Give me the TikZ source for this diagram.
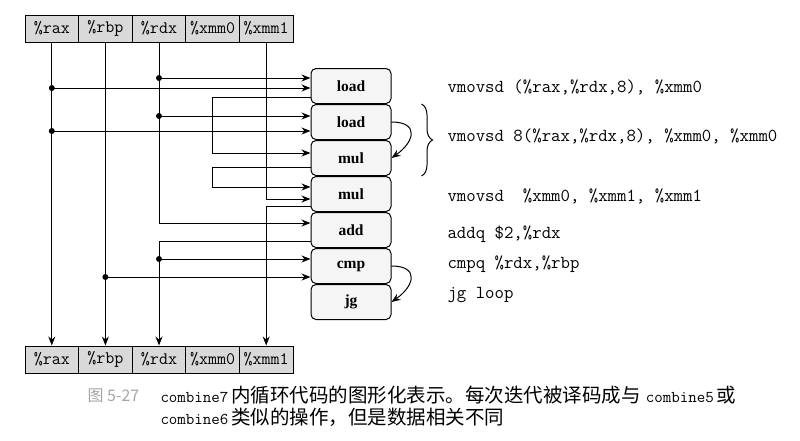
\documentclass[tikz,border=0pt]{standalone}
\usepackage{fontspec}
\setmainfont{Liberation Serif}
\newfontfamily\cjkfont{Noto Sans CJK SC}
\newcommand{\capcodefont}{\ttfamily\fontsize{16.5}{16.5}\selectfont}
\usetikzlibrary{arrows.meta,calc,decorations.pathreplacing}

\tikzset{
    reg/.style={draw, fill=gray!30, minimum width=53.6pt, minimum height=27pt, inner sep=0pt, font=\ttfamily\fontsize{17.5}{18}\selectfont},
    op/.style={draw, rounded corners=5pt, fill=gray!8, minimum width=80pt, minimum height=35pt, inner sep=0pt, font=\bfseries\fontsize{15.5}{16}\selectfont},
    junc/.style={circle, fill, inner sep=0pt, minimum size=6pt},
    code/.style={anchor=base west, inner sep=0pt, font=\ttfamily\fontsize{18.3}{18}\selectfont},
    caption/.style={anchor=base west, inner sep=0pt, font=\cjkfont\fontsize{19.5}{20}\selectfont},
}

\begin{document}
\begin{tikzpicture}[x=1pt, y=-1pt, line width=1pt, >={Stealth[length=9pt,width=7pt]}]
    \useasboundingbox (0,0) rectangle (800,440);
    %draw registers
    \foreach \r/\t [count=\i] in {rax/\%rax, rbp/\%rbp, rdx/\%rdx, xmmz/\%xmm0, xmmo/\%xmm1}
        {%
            \node[reg] (\r-t) at (53.6*\i-1.8, 28.5) {\t};
            \node[reg] (\r-b) at (53.6*\i-1.8, 359.5) {\t};
        }
    %draw operations
    \foreach \n/\t [count=\i] in {ld1/load, ld2/load, ml1/mul, ml2/mul, add/add, cmp/cmp, jg/jg}
        {%
            \node[op] (\n) at (351, 50+36*\i) {\t};
        }
    %draw register columns
    \draw [->] (rax-t) -- (rax-b);
    \draw [->] (rbp-t) -- (rbp-b);
    \draw [->] (rdx-t) |- ($(add.west)+(0,-7)$);
    \draw [->] ($(add.west)+(0,11)$) -| (rdx-b);
    \draw [->] (xmmo-t) |- ($(ml2.west)+(0,5)$);
    \draw [->] ($(ml2.west)+(0,12)$) -| (xmmo-b);
    %draw loads
    \draw [->] ($(rdx-t.south |- ld1.west)+(0,-8)$) node[junc] (j1) {} -- ($(ld1.west)+(0,-8)$);
    \draw [->] ($(rax-t.south |- ld1.west)+(0,2)$) node[junc] (j2) {} -- ($(ld1.west)+(0,2)$);
    \draw [->] ($(rdx-t.south |- ld2.west)+(0,-6)$) node[junc] (j3) {} -- ($(ld2.west)+(0,-6)$);
    \draw [->] ($(rax-t.south |- ld2.west)+(0,9)$) node[junc] (j4) {} -- ($(ld2.west)+(0,9)$);
    %draw xmm0 paths
    \draw [->] ($(ld1.west)+(0,11)$) -| ($(xmmz-t.south |- ml1.west)+(0,-5)$) -- ($(ml1.west)+(0,-5)$);
    \draw [->] ($(ml1.west)+(0,9)$) -| ($(xmmz-t.south |- ml2.west)+(0,-7)$) -- ($(ml2.west)+(0,-7)$);
    %draw compare
    \draw [->] ($(rdx-t.south |- cmp.west)+(0,-7)$) node[junc] (j5) {} -- ($(cmp.west)+(0,-7)$);
    \draw [->] ($(rbp-t.south |- cmp.west)+(0,11)$) node[junc] (j6) {} -- ($(cmp.west)+(0,11)$);
    %draw curved arrows
    \draw [->] (ld2.east) to[out=0, in=35, looseness=2] (ml1.east);
    \draw [->] (cmp.east) to[out=0, in=35, looseness=2] (jg.east);
    \draw [decorate, decoration={brace, amplitude=11pt}] ($(ld2.north east)+(30,0)$) -- ($(ml1.south east)+(30,0)$);
    %draw code
    \node[code] (c1) at (447,92) {vmovsd (\%rax,\%rdx,8), \%xmm0};
    \node[code] (c2) at (447,141) {vmovsd 8(\%rax,\%rdx,8), \%xmm0, \%xmm0};
    \node[code] (c3) at (447,201) {vmovsd\ \ \%xmm0, \%xmm1, \%xmm1};
    \node[code] (c4) at (447,238) {addq \$2,\%rdx};
    \node[code] (c5) at (447,268) {cmpq \%rdx,\%rbp};
    \node[code] (c6) at (447,298) {jg loop};
    %draw caption
    \node[caption, text=gray!70, font=\cjkfont\fontsize{16}{16}\selectfont] (fig) at (87,401) {图 5-27};
    \node[caption] (cap1) at (160,402) {{\capcodefont combine7}\hspace{3pt}内循环代码的图形化表示。每次迭代被译码成与\hspace{5pt}{\capcodefont combine5}\hspace{3pt}或};
    \node[caption] (cap2) at (160,424) {{\capcodefont combine6}\hspace{3pt}类似的操作，但是数据相关不同};
\end{tikzpicture}
\end{document}
